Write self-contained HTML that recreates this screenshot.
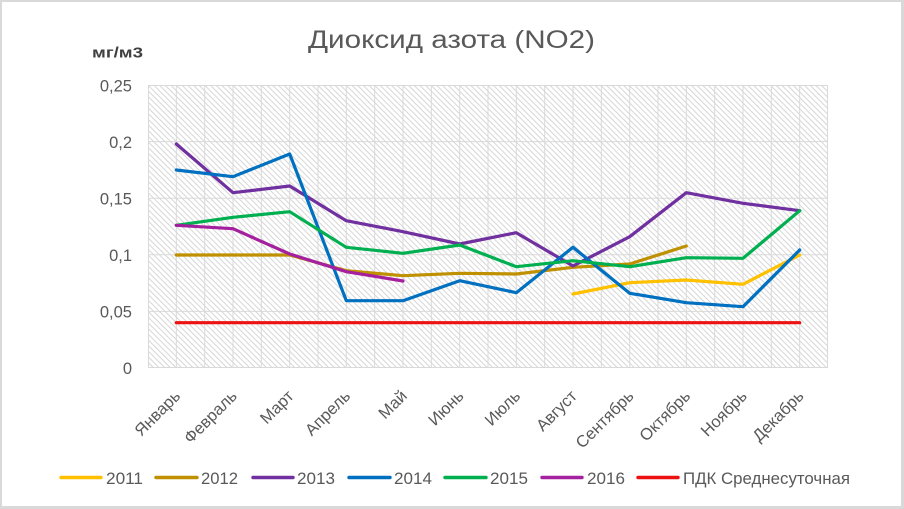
<!DOCTYPE html>
<html>
<head>
<meta charset="utf-8">
<style>
  html,body{margin:0;padding:0;background:#fff;}
  svg{display:block;}
  text{font-family:"Liberation Sans","DejaVu Sans",sans-serif;}
</style>
</head>
<body>
<svg width="904" height="509" viewBox="0 0 904 509" xmlns="http://www.w3.org/2000/svg">
  <defs>
    <pattern id="hatch" patternUnits="userSpaceOnUse" width="4" height="4" patternTransform="rotate(-45)">
      <rect x="0" y="0" width="4" height="4" fill="#ffffff"/>
      <rect x="0" y="0" width="1" height="4" fill="#d6d6d6"/>
    </pattern>
  </defs>
  <!-- outer frame -->
  <rect x="0" y="0" width="904" height="509" fill="#d9d9d9"/>
  <rect x="2" y="2" width="899" height="504" fill="#ffffff"/>

  <!-- title -->
  <text x="451.5" y="48" font-size="25" fill="#595959" text-anchor="middle" textLength="287" lengthAdjust="spacingAndGlyphs">Диоксид азота (NO2)</text>

  <!-- unit label -->
  <text x="92" y="57.5" font-size="15" font-weight="bold" fill="#404040" textLength="51" lengthAdjust="spacingAndGlyphs">мг/м3</text>

  <!-- plot area -->
  <rect x="148" y="85" width="680" height="283" fill="url(#hatch)"/>
  <g stroke="#d9d9d9" stroke-width="1" fill="none">
    <line x1="148" y1="85.5" x2="828" y2="85.5"/>
    <line x1="148" y1="141.6" x2="828" y2="141.6"/>
    <line x1="148" y1="198.2" x2="828" y2="198.2"/>
    <line x1="148" y1="254.8" x2="828" y2="254.8"/>
    <line x1="148" y1="311.4" x2="828" y2="311.4"/>
    <line x1="148" y1="367.5" x2="828" y2="367.5"/>
    <line x1="148.5" y1="85" x2="148.5" y2="368"/>
    <line x1="176.3" y1="85" x2="176.3" y2="368"/>
    <line x1="204.7" y1="85" x2="204.7" y2="368"/>
    <line x1="233" y1="85" x2="233" y2="368"/>
    <line x1="261.3" y1="85" x2="261.3" y2="368"/>
    <line x1="289.7" y1="85" x2="289.7" y2="368"/>
    <line x1="318" y1="85" x2="318" y2="368"/>
    <line x1="346.3" y1="85" x2="346.3" y2="368"/>
    <line x1="374.7" y1="85" x2="374.7" y2="368"/>
    <line x1="403" y1="85" x2="403" y2="368"/>
    <line x1="431.3" y1="85" x2="431.3" y2="368"/>
    <line x1="459.7" y1="85" x2="459.7" y2="368"/>
    <line x1="488" y1="85" x2="488" y2="368"/>
    <line x1="516.3" y1="85" x2="516.3" y2="368"/>
    <line x1="544.7" y1="85" x2="544.7" y2="368"/>
    <line x1="573" y1="85" x2="573" y2="368"/>
    <line x1="601.3" y1="85" x2="601.3" y2="368"/>
    <line x1="629.7" y1="85" x2="629.7" y2="368"/>
    <line x1="658" y1="85" x2="658" y2="368"/>
    <line x1="686.3" y1="85" x2="686.3" y2="368"/>
    <line x1="714.7" y1="85" x2="714.7" y2="368"/>
    <line x1="743" y1="85" x2="743" y2="368"/>
    <line x1="771.3" y1="85" x2="771.3" y2="368"/>
    <line x1="799.7" y1="85" x2="799.7" y2="368"/>
    <line x1="827.5" y1="85" x2="827.5" y2="368"/>
  </g>

  <!-- y axis labels -->
  <g font-size="16.5" fill="#595959" text-anchor="end">
    <text x="132" y="91.5">0,25</text>
    <text x="132" y="148">0,2</text>
    <text x="132" y="204.5">0,15</text>
    <text x="132" y="261">0,1</text>
    <text x="132" y="317.5">0,05</text>
    <text x="132" y="374">0</text>
  </g>

  <!-- x axis labels -->
  <g font-size="16.5" fill="#595959" text-anchor="end">
    <text transform="translate(181.3,397) rotate(-45)">Январь</text>
    <text transform="translate(238,397) rotate(-45)">Февраль</text>
    <text transform="translate(294.7,397) rotate(-45)">Март</text>
    <text transform="translate(351.3,397) rotate(-45)">Апрель</text>
    <text transform="translate(408,397) rotate(-45)">Май</text>
    <text transform="translate(464.7,397) rotate(-45)">Июнь</text>
    <text transform="translate(521.3,397) rotate(-45)">Июль</text>
    <text transform="translate(578,397) rotate(-45)">Август</text>
    <text transform="translate(634.7,397) rotate(-45)">Сентябрь</text>
    <text transform="translate(691.3,397) rotate(-45)">Октябрь</text>
    <text transform="translate(748,397) rotate(-45)">Ноябрь</text>
    <text transform="translate(804.7,397) rotate(-45)">Декабрь</text>
  </g>

  <!-- series -->
  <g fill="none" stroke-width="3.2" stroke-linejoin="round" stroke-linecap="round">
    <polyline stroke="#FFC000" points="573,294 629.7,282.7 686.3,280 743,284.3 799.7,255"/>
    <polyline stroke="#BF9000" points="176.3,255 233,255 289.7,255 346.3,270.7 403,275.7 459.7,273.3 516.3,274 573,267.3 629.7,264 686.3,246"/>
    <polyline stroke="#7030A0" points="176.3,144 233,192.7 289.7,186 346.3,220.7 403,231.7 459.7,244 516.3,232.7 573,266 629.7,236.7 686.3,192.7 743,203.3 799.7,210.7"/>
    <polyline stroke="#0070C0" points="176.3,170 233,176.7 289.7,154 346.3,300.7 403,300.7 459.7,280.7 516.3,292.7 573,247.3 629.7,293.3 686.3,302.7 743,306.7 799.7,250"/>
    <polyline stroke="#00B050" points="176.3,225.3 233,217.3 289.7,211.7 346.3,247.3 403,253.3 459.7,245 516.3,266.7 573,260.7 629.7,266.7 686.3,257.7 743,258.3 799.7,210.7"/>
    <polyline stroke="#A5209E" points="176.3,225.3 233,228.7 289.7,254 346.3,271.7 403,281"/>
    <polyline stroke="#EE1111" points="176.3,322.7 799.7,322.7"/>
  </g>

  <!-- legend -->
  <g stroke-width="3.4" stroke-linecap="round">
    <line x1="61" y1="477.5" x2="101" y2="477.5" stroke="#FFC000"/>
    <line x1="156" y1="477.5" x2="197" y2="477.5" stroke="#BF9000"/>
    <line x1="253" y1="477.5" x2="293" y2="477.5" stroke="#7030A0"/>
    <line x1="349" y1="477.5" x2="390" y2="477.5" stroke="#0070C0"/>
    <line x1="445" y1="477.5" x2="486" y2="477.5" stroke="#00B050"/>
    <line x1="542" y1="477.5" x2="582" y2="477.5" stroke="#A5209E"/>
    <line x1="638" y1="477.5" x2="678" y2="477.5" stroke="#EE1111"/>
  </g>
  <g font-size="16.5" fill="#595959">
    <text x="106" y="484" textLength="37" lengthAdjust="spacingAndGlyphs">2011</text>
    <text x="201" y="484" textLength="37" lengthAdjust="spacingAndGlyphs">2012</text>
    <text x="297" y="484" textLength="38" lengthAdjust="spacingAndGlyphs">2013</text>
    <text x="394" y="484" textLength="38" lengthAdjust="spacingAndGlyphs">2014</text>
    <text x="490" y="484" textLength="38" lengthAdjust="spacingAndGlyphs">2015</text>
    <text x="587" y="484" textLength="38" lengthAdjust="spacingAndGlyphs">2016</text>
    <text x="683" y="484" textLength="167" lengthAdjust="spacingAndGlyphs">ПДК Среднесуточная</text>
  </g>
</svg>
</body>
</html>
